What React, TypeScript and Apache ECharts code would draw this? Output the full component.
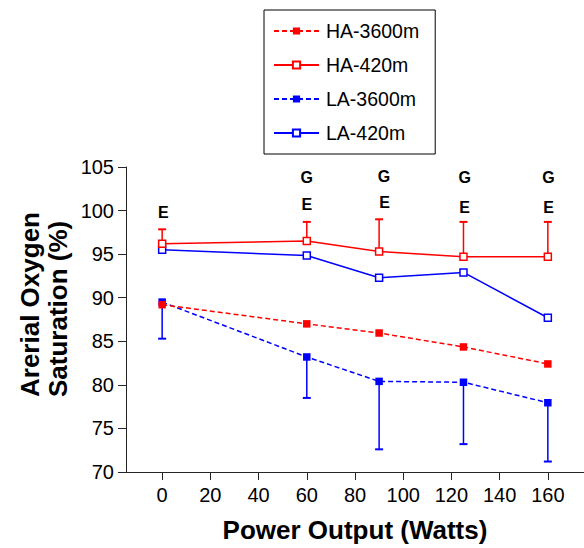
import React, { useEffect, useRef } from "react";
import * as echarts from "echarts";

const powerOutput = [0, 60, 90, 125, 160];
const ha3600 = [89.2, 87.0, 85.95, 84.35, 82.4];
const ha420 = [96.2, 96.5, 95.3, 94.7, 94.7];
const la3600 = [89.5, 83.2, 80.4, 80.3, 77.95];
const la420 = [95.5, 94.85, 92.3, 92.9, 87.7];
const ha420Upper = [97.85, 98.7, 99.0, 98.7, 98.7];
const la3600Lower = [85.3, 78.5, 72.6, 73.2, 71.2];

const xTickLabels = [0, 20, 40, 60, 80, 100, 120, 140, 160];

const annotationX = [0.5, 60, 60, 92, 92.3, 125.5, 125.5, 160.3, 160.3];
const annotationY = [99.8, 103.75, 100.7, 103.9, 100.9, 103.75, 100.3, 103.75, 100.3];
const annotationText = ["E", "G", "E", "G", "E", "G", "E", "G", "E"];

const legendNames = ["HA-3600m", "HA-420m", "LA-3600m", "LA-420m"];

const FONT = '"Liberation Sans", Arial, Helvetica, sans-serif';
const RED = "#ff0000";
const BLUE = "#0000ff";

function pairs(xs: number[], ys: number[]) {
  return xs.map((x, i) => [x, ys[i]]);
}

function errorSeries(name: string, means: number[], ends: number[], color: string) {
  return {
    type: "custom",
    name,
    z: 1,
    data: powerOutput.map((x, i) => [x, means[i], ends[i]]),
    encode: { x: 0, y: [1, 2] },
    renderItem: (params: any, api: any) => {
      const x = api.value(0);
      const a = api.coord([x, api.value(1)]);
      const b = api.coord([x, api.value(2)]);
      const style = { stroke: color, lineWidth: 1.5 };
      return {
        type: "group",
        children: [
          { type: "line", shape: { x1: a[0], y1: a[1], x2: b[0], y2: b[1] }, style },
          { type: "line", shape: { x1: b[0] - 4, y1: b[1], x2: b[0] + 4, y2: b[1] }, style: { stroke: color, lineWidth: 2 } },
        ],
      };
    },
  };
}

export default function App() {
  const ref = useRef<HTMLDivElement>(null);
  useEffect(() => {
    if (!ref.current) return;
    const chart = echarts.init(ref.current, undefined, { renderer: "svg" });
    const filledLine = (name: string, data: number[], color: string) => ({
      type: "line",
      name,
      data: pairs(powerOutput, data),
      symbol: "rect",
      symbolSize: 7.5,
      itemStyle: { color },
      lineStyle: { color, width: 1.5, type: [5, 3] },
      z: 3,
    });
    const openLine = (name: string, data: number[], color: string) => ({
      type: "line",
      name,
      data: pairs(powerOutput, data),
      symbol: "rect",
      symbolSize: 7,
      itemStyle: { color: "#ffffff", borderColor: color, borderWidth: 1.5 },
      lineStyle: { color, width: 1.5 },
      z: 3,
    });
    chart.setOption({
      animation: false,
      backgroundColor: "#ffffff",
      grid: { left: 126, right: 0, top: 167, bottom: 73 },
      legend: {
        data: legendNames,
        orient: "vertical",
        left: 264,
        top: 10,
        itemWidth: 45,
        itemHeight: 9,
        itemGap: 14,
        padding: [11, 16, 11, 9],
        borderColor: "#000",
        borderWidth: 1,
        textStyle: { color: "#000", fontSize: 19.5, fontFamily: FONT, lineHeight: 20, padding: [0, 0, 0, 2] },
      },
      xAxis: {
        type: "value",
        min: -15,
        max: 175,
        name: "Power Output (Watts)",
        nameLocation: "middle",
        nameGap: 45,
        nameTextStyle: { color: "#000", fontSize: 26, fontWeight: "bold", fontFamily: FONT },
        splitLine: { show: false },
        axisLine: { show: true, onZero: false, lineStyle: { color: "#262626", width: 1 } },
        axisTick: { show: true, length: 8, customValues: xTickLabels, lineStyle: { color: "#262626" } },
        axisLabel: { customValues: xTickLabels, color: "#000", fontSize: 20, fontFamily: FONT, margin: 13 },
      },
      yAxis: {
        type: "value",
        min: 70,
        max: 105,
        interval: 5,
        splitLine: { show: false },
        axisLine: { show: true, onZero: false, lineStyle: { color: "#262626", width: 1 } },
        axisTick: { show: true, length: 8, lineStyle: { color: "#262626" } },
        axisLabel: { color: "#000", fontSize: 20, fontFamily: FONT, margin: 12 },
      },
      graphic: [
        {
          type: "text",
          x: 16,
          y: 397,
          rotation: Math.PI / 2,
          style: {
            text: "Arerial Oxygen\nSaturation (%)",
            fill: "#000",
            font: "bold 26px " + FONT,
            lineHeight: 28,
            align: "left",
            verticalAlign: "top",
          },
        },
      ],
      series: [
        errorSeries("HA-420m error", ha420, ha420Upper, RED),
        errorSeries("LA-3600m error", la3600, la3600Lower, BLUE),
        openLine("LA-420m", la420, BLUE),
        filledLine("LA-3600m", la3600, BLUE),
        openLine("HA-420m", ha420, RED),
        filledLine("HA-3600m", ha3600, RED),
        {
          type: "custom",
          name: "annotations",
          z: 4,
          data: annotationX.map((x, i) => [x, annotationY[i]]),
          encode: { x: 0, y: 1 },
          renderItem: (params: any, api: any) => {
            const p = api.coord([api.value(0), api.value(1)]);
            return {
              type: "text",
              x: p[0],
              y: p[1],
              style: {
                text: annotationText[params.dataIndex],
                fill: "#000",
                font: "bold 16px " + FONT,
                align: "center",
                verticalAlign: "middle",
                textAlign: "center",
                textVerticalAlign: "middle",
              },
            };
          },
        },
      ],
    });
    return () => chart.dispose();
  }, []);
  return <div ref={ref} style={{ position: "fixed", left: 0, top: 0, width: 584, height: 548 }} />;
}
